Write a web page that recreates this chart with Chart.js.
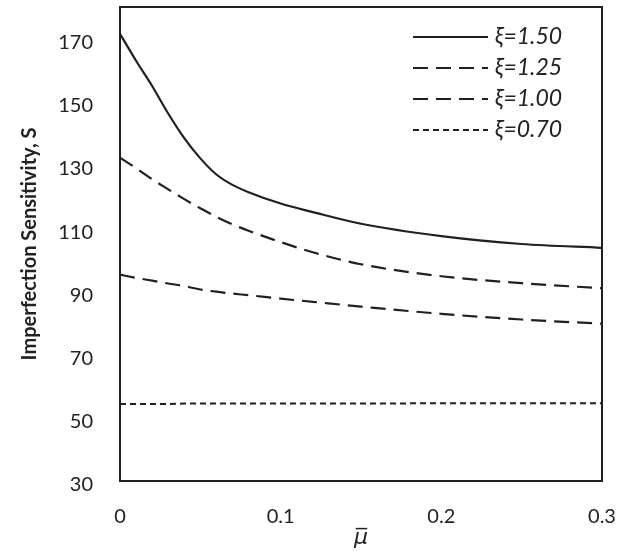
<!DOCTYPE html>
<html>
<head>
<meta charset="utf-8">
<script src="https://cdn.jsdelivr.net/npm/chart.js@4"></script>
<style>
  html, body { margin: 0; padding: 0; background: #fff; }
  #wrap { width: 619px; height: 551px; }
</style>
</head>
<body>
<div id="wrap"><canvas id="sensChart" width="619" height="551"></canvas></div>
<script>
// values
const mu = [0, 0.01, 0.02, 0.03, 0.04, 0.05, 0.06, 0.07, 0.08, 0.10, 0.12, 0.15, 0.20, 0.25, 0.30];
const xi150 = [171.5, 163.0, 155.0, 146.3, 138.5, 132.1, 127.0, 123.7, 121.4, 117.8, 115.1, 111.4, 107.5, 105.0, 103.8];
const xi125 = [132.3, 129.0, 125.5, 122.3, 119.2, 116.3, 113.6, 111.2, 109.2, 105.6, 102.4, 98.6, 94.8, 92.6, 91.0];
const xi100 = [95.3, 94.3, 93.4, 92.5, 91.7, 90.6, 89.9, 89.3, 88.8, 87.7, 86.7, 85.2, 82.9, 81.1, 79.8];
const xi070 = [54.4, 54.4, 54.4, 54.4, 54.5, 54.5, 54.5, 54.5, 54.5, 54.5, 54.5, 54.5, 54.6, 54.6, 54.6];
const seriesLabels = ["ξ=1.50", "ξ=1.25", "ξ=1.00", "ξ=0.70"];
const yTicks = [30, 50, 70, 90, 110, 130, 150, 170];
const xTicks = [0, 0.1, 0.2, 0.3];

const ink = "#231f20";

function pts(ys) {
  return mu.map((m, i) => ({ x: m, y: ys[i] }));
}

// frame around the plot area
const frame = {
  id: "frame",
  afterDatasetsDraw(chart) {
    const a = chart.chartArea, c = chart.ctx;
    c.save();
    c.strokeStyle = ink;
    c.lineWidth = 2;
    c.strokeRect(a.left, a.top, a.right - a.left, a.bottom - a.top);
    c.restore();
  }
};

// legend in the top right corner of the plot
const cornerLegend = {
  id: "cornerLegend",
  afterDraw(chart) {
    const c = chart.ctx;
    c.save();
    chart.data.datasets.forEach((ds, i) => {
      const y = 37 + i * 31;
      c.strokeStyle = ds.borderColor;
      c.lineWidth = ds.borderWidth;
      c.setLineDash(ds.borderDash || []);
      c.beginPath();
      c.moveTo(413, y);
      c.lineTo(488, y);
      c.stroke();
      c.setLineDash([]);
      c.fillStyle = "#222";
      c.font = "italic 23px Lato, 'Open Sans'";
      c.textBaseline = "middle";
      c.fillText(ds.label, 495, y);
    });
    c.restore();
  }
};

const ctx = document.getElementById("sensChart").getContext("2d");

new Chart(ctx, {
  type: "line",
  data: {
    datasets: [
      { label: seriesLabels[0], data: pts(xi150), borderColor: ink, borderWidth: 2.2, borderDash: [] },
      { label: seriesLabels[1], data: pts(xi125), borderColor: ink, borderWidth: 2.2, borderDash: [15, 8] },
      { label: seriesLabels[2], data: pts(xi100), borderColor: ink, borderWidth: 2.2, borderDash: [15, 8] },
      { label: seriesLabels[3], data: pts(xi070), borderColor: ink, borderWidth: 2, borderDash: [6, 4] },
    ],
  },
  options: {
    responsive: false,
    animation: false,
    cubicInterpolationMode: "monotone",
    elements: { point: { radius: 0 } },
    layout: { padding: { left: 0, right: 17, top: 7, bottom: 0 } },
    plugins: {
      legend: { display: false },
      tooltip: { enabled: false },
    },
    scales: {
      x: {
        type: "linear",
        min: 0,
        max: 0.3,
        afterFit(scale) {
          scale.height = 70;
          scale.paddingLeft = 0;
          scale.paddingRight = 0;
        },
        afterBuildTicks(scale) { scale.ticks = xTicks.map(v => ({ value: v })); },
        grid: { display: false, drawTicks: false },
        border: { display: false },
        ticks: {
          padding: 24,
          color: "#222",
          font: { family: "Lato, 'Open Sans'", size: 20 },
          maxRotation: 0,
          callback: v => String(v),
        },
        title: {
          display: true,
          text: "μ\u0305",
          color: "#222",
          font: { family: "'DejaVu Sans', 'Open Sans'", size: 22, style: "italic" },
          padding: { top: 0, bottom: 0 },
        },
      },
      y: {
        min: 30,
        max: 180,
        afterFit(scale) {
          scale.width = 120;
          scale.paddingTop = 0;
          scale.paddingBottom = 0;
        },
        afterBuildTicks(scale) { scale.ticks = yTicks.map(v => ({ value: v })); },
        grid: { display: false, drawTicks: false },
        border: { display: false },
        ticks: {
          padding: 27,
          labelOffset: 4,
          color: "#222",
          font: { family: "Lato, 'Open Sans'", size: 20 },
        },
        title: {
          display: true,
          text: "Imperfection Sensitivity, S",
          color: "#222",
          font: { family: "Lato, 'Open Sans'", size: 20, weight: "bold" },
          padding: { top: 18, bottom: 0 },
        },
      },
    },
  },
  plugins: [frame, cornerLegend],
});
</script>
</body>
</html>
